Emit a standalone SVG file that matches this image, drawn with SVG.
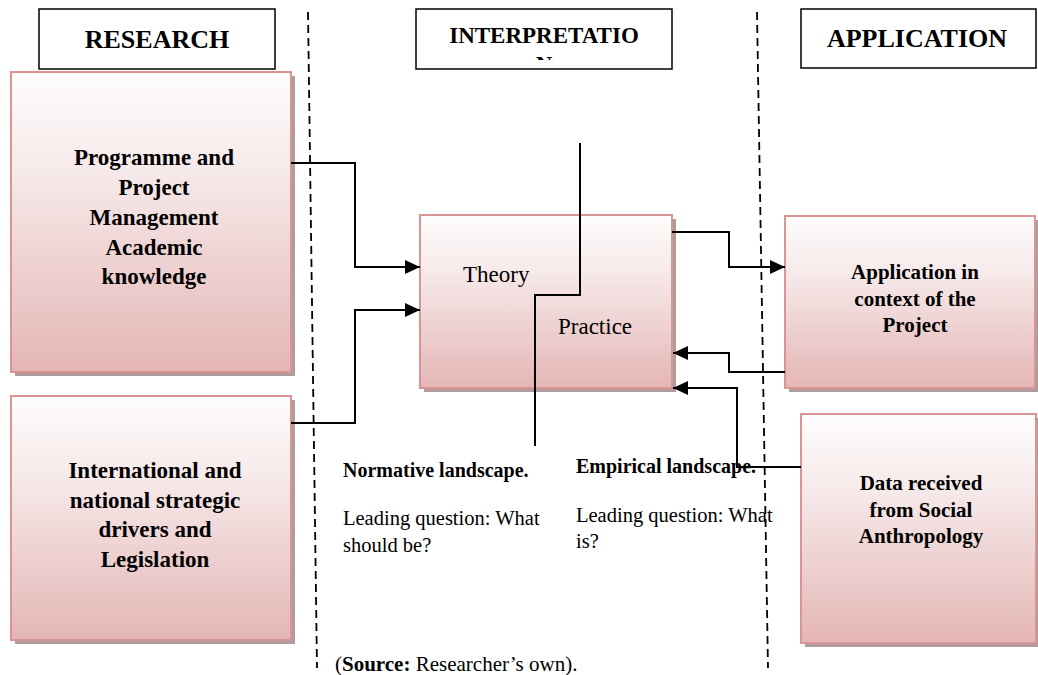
<svg xmlns="http://www.w3.org/2000/svg" width="1038" height="675" viewBox="0 0 1038 675">
<style>
.hdr{fill:#fff;stroke:#000;stroke-width:1.5}
.box{fill:url(#pg);stroke:#d99594;stroke-width:2}
.sh{fill:#b09c9c}
.bt{font-family:"Liberation Serif",serif;font-weight:bold;fill:#000;text-anchor:middle}
.rt{font-family:"Liberation Serif",serif;fill:#000}
.dash{stroke:#000;stroke-width:1.8;stroke-dasharray:8,5;fill:none}
.con{stroke:#000;stroke-width:2;fill:none}
</style>
<defs>
<linearGradient id="pg" x1="0" y1="0" x2="0" y2="1">
<stop offset="0" stop-color="#fefdfd"/>
<stop offset="0.35" stop-color="#f6e8e8"/>
<stop offset="1" stop-color="#e4b6b5"/>
</linearGradient>
<marker id="ah" markerWidth="16" markerHeight="14" refX="15" refY="7" orient="auto" markerUnits="userSpaceOnUse">
<path d="M0,0 L15,7 L0,14 Z" fill="#000"/>
</marker>
<clipPath id="ic"><rect x="416" y="9" width="256" height="51"/></clipPath>
</defs>
<rect width="1038" height="675" fill="#fff"/>

<g id="dividers">
<line class="dash" x1="308" y1="12" x2="317" y2="668"/>
<line class="dash" x1="757" y1="12" x2="768" y2="668"/>
</g>

<g id="hdr-research">
<rect class="hdr" x="39" y="9" width="236" height="60"/>
<text class="bt" x="157" y="48" font-size="26">RESEARCH</text>
</g>
<g id="hdr-interpretation">
<rect class="hdr" x="416" y="9" width="256" height="60"/>
<g clip-path="url(#ic)">
<text class="bt" x="544" y="43" font-size="23">INTERPRETATIO</text>
<text class="bt" x="544" y="72" font-size="23">N</text>
</g>
</g>
<g id="hdr-application">
<rect class="hdr" x="801" y="9" width="235" height="59"/>
<text class="bt" x="917" y="47" font-size="26">APPLICATION</text>
</g>

<g id="programme">
<rect class="sh" x="15" y="76" width="280" height="300"/>
<rect class="box" x="11" y="72" width="280" height="300"/>
<text class="bt" font-size="23"><tspan x="154" y="165">Programme and</tspan><tspan x="154" y="195">Project</tspan><tspan x="154" y="225">Management</tspan><tspan x="154" y="255">Academic</tspan><tspan x="154" y="284">knowledge</tspan></text>
</g>

<g id="international">
<rect class="sh" x="15" y="400" width="280" height="244"/>
<rect class="box" x="11" y="396" width="280" height="244"/>
<text class="bt" font-size="23"><tspan x="155" y="478">International and</tspan><tspan x="155" y="508">national strategic</tspan><tspan x="155" y="537">drivers and</tspan><tspan x="155" y="567">Legislation</tspan></text>
</g>

<g id="theory-practice">
<rect class="sh" x="424" y="219" width="252" height="173"/>
<rect class="box" x="420" y="215" width="252" height="173"/>
<text class="rt" x="463" y="282" font-size="23">Theory</text>
<text class="rt" x="558" y="334" font-size="23">Practice</text>
</g>

<g id="application">
<rect class="sh" x="789" y="220" width="250" height="172"/>
<rect class="box" x="785" y="216" width="250" height="172"/>
<text class="bt" font-size="21"><tspan x="915" y="279">Application in</tspan><tspan x="915" y="306">context of the</tspan><tspan x="915" y="332">Project</tspan></text>
</g>

<g id="data">
<rect class="sh" x="805" y="418" width="235" height="229"/>
<rect class="box" x="801" y="414" width="235" height="229"/>
<text class="bt" font-size="21"><tspan x="921" y="490">Data received</tspan><tspan x="921" y="517">from Social</tspan><tspan x="921" y="543">Anthropology</tspan></text>
</g>

<g id="normative">
<text class="rt" x="343" y="477" font-size="20" font-weight="bold">Normative landscape.</text>
<text class="rt" x="343" y="525" font-size="20.5">Leading question: What</text>
<text class="rt" x="343" y="552" font-size="20.5">should be?</text>
</g>

<g id="empirical">
<text class="rt" x="576" y="473" font-size="20" font-weight="bold">Empirical landscape.</text>
<text class="rt" x="576" y="522" font-size="20.5">Leading question: What</text>
<text class="rt" x="576" y="548" font-size="20.5">is?</text>
</g>

<g id="connectors">
<polyline class="con" points="580,143 580,295 535,295 535,446"/>
<polyline class="con" points="291,163 355,163 355,267 420,267" marker-end="url(#ah)"/>
<polyline class="con" points="291,423 355,423 355,310 420,310" marker-end="url(#ah)"/>
<polyline class="con" points="672,232 729,232 729,267 785,267" marker-end="url(#ah)"/>
<polyline class="con" points="785,372 729,372 729,353 673,353" marker-end="url(#ah)"/>
<polyline class="con" points="801,467 737,467 737,388 673,388" marker-end="url(#ah)"/>
</g>

<g id="source">
<text class="rt" x="335" y="671" font-size="21">(<tspan font-weight="bold">Source:</tspan> Researcher’s own).</text>
</g>
</svg>
